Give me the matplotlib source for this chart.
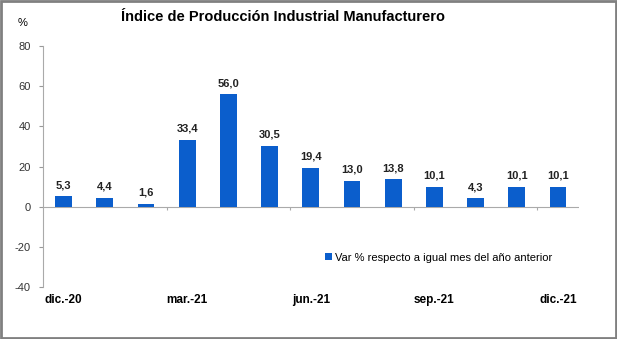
import matplotlib.pyplot as plt
from matplotlib.patches import Rectangle

months = ["dic.-20", "ene.-21", "feb.-21", "mar.-21", "abr.-21", "may.-21", "jun.-21",
          "jul.-21", "ago.-21", "sep.-21", "oct.-21", "nov.-21", "dic.-21"]
values = [5.3, 4.4, 1.6, 33.4, 56.0, 30.5, 19.4, 13.0, 13.8, 10.1, 4.3, 10.1, 10.1]
shown_ticks = [0, 3, 6, 9, 12]
yticks = [-40, -20, 0, 20, 40, 60, 80]
bar_color = "#0B5ECC"

plt.rcParams['font.family'] = ['Liberation Sans', 'DejaVu Sans']
plt.rcParams['axes.unicode_minus'] = False

fig = plt.figure(figsize=(6.17, 3.39), dpi=100)
ax = fig.add_axes([0.0697, 0.153, 0.868, 0.711])

x = list(range(len(values)))
ax.bar(x, values, width=0.41, color=bar_color, zorder=2,
       label="Var % respecto a igual mes del año anterior")
for xi, v in zip(x, values):
    ax.text(xi, v + 3, f"{v:.1f}".replace(".", ","), ha="center", va="bottom",
            fontsize=8, fontweight="bold", color="#222222")

ax.set_xlim(-0.5, len(values) - 0.5)
ax.set_ylim(-40, 80)
ax.set_yticks(yticks)
ax.tick_params(axis="y", labelsize=8, length=3, color="#999999", pad=6,
               labelcolor="#333333")
ax.set_xticks([])
for xi in shown_ticks:
    ax.text(xi, -43.5, months[xi], ha="center", va="top", fontsize=8.5,
            fontweight="bold", transform=ax.transData)

for s in ["top", "right", "bottom"]:
    ax.spines[s].set_visible(False)
ax.spines["left"].set_color("#aaaaaa")
ax.axhline(0, color="#aaaaaa", lw=0.8, zorder=1)
# small category tick marks below the zero line
ax.vlines([2.5, 5.5, 8.5, 11.5], -1.5, 0, color="#aaaaaa", lw=0.8, zorder=1)

ax.legend(loc="lower right", bbox_to_anchor=(0.97, 0.06), frameon=False,
          fontsize=8, handlelength=0.6, handleheight=0.6, handletextpad=0.3)

fig.text(0.459, 0.95, "Índice de Producción Industrial Manufacturero", ha="center",
         va="center", fontsize=10.5, fontweight="bold")
fig.text(0.036, 0.932, "%", ha="center", va="center", fontsize=8)

fig.patches.append(Rectangle((0.001, 0.002), 0.997, 0.995, transform=fig.transFigure,
                             fill=False, edgecolor="#808080", lw=2))

fig.savefig("out.png", dpi=100)
